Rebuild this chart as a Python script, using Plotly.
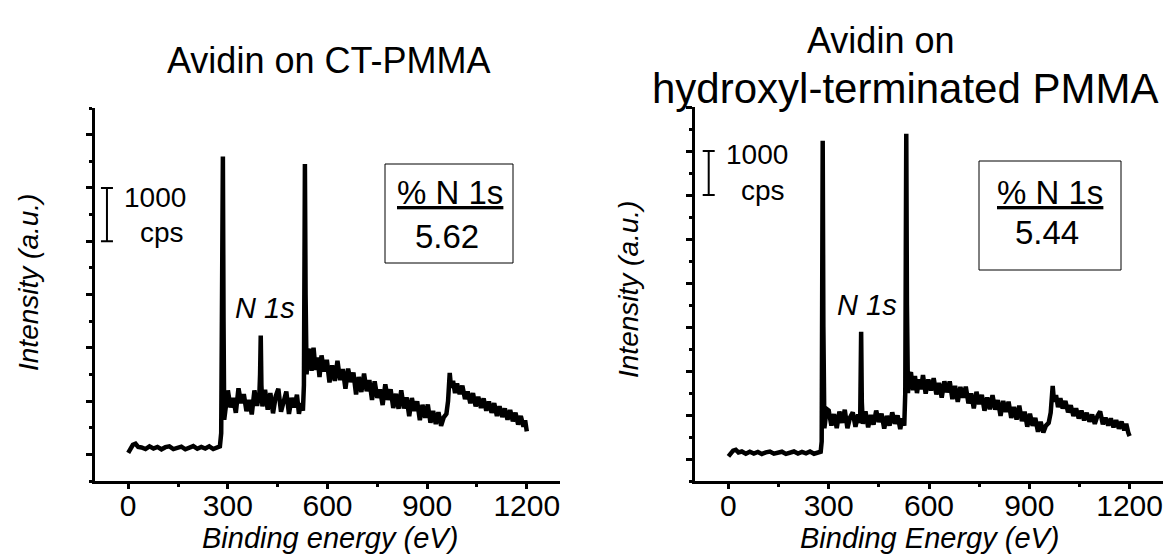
import plotly.graph_objects as go

W, H = 1176, 559

# ---------------- data ----------------
energy_ct = [0, 6, 14, 22, 30, 40, 52, 64, 76, 88, 100, 112, 124, 136, 148, 160, 172, 184, 196, 208, 220, 232, 244, 256, 268, 276,
             280, 283, 285, 287, 289, 292, 296,
             300, 308, 316, 324, 332, 340, 348, 356, 364, 372, 380, 388, 395,
             397, 399, 401, 404,
             412, 420, 428, 436, 444, 452, 460, 468, 476, 484, 492, 500, 508, 514, 520, 526,
             529, 531, 532, 534, 537, 541,
             546, 552, 558, 564, 570, 576, 582, 590, 598, 606, 614, 622, 630, 638, 646, 654, 662, 670, 678, 686, 694, 702,
             710, 718, 726, 734, 742, 750, 758, 766, 774, 782, 790, 798, 806, 814, 822, 830, 838, 846, 854, 862, 870, 878,
             886, 894, 902, 910, 918, 926, 934, 942, 950, 958,
             963, 968, 972, 978, 984, 990, 998, 1006, 1014, 1022, 1030, 1038, 1046, 1054, 1062, 1070, 1078, 1086, 1094,
             1102, 1110, 1118, 1126, 1134, 1142, 1150, 1158, 1166, 1174, 1182, 1190, 1195, 1200]
counts_ct = [30, 110, 180, 200, 140, 130, 100, 150, 110, 140, 95, 135, 150, 100, 130, 145, 95, 130, 155, 105, 140, 110, 150, 100, 135, 150,
             400, 3000, 5590, 2500, 650, 800, 1000,
             1200, 880, 1060, 780, 1240, 960, 1130, 810, 1020, 750, 1200, 910, 1150,
             1500, 2230, 1300, 900,
             1210, 840, 1150, 770, 1090, 1230, 800, 980, 1180, 760, 1060, 880, 1120, 760, 960, 820,
             1300, 4000, 5450, 3000, 1500, 1900,
             1980, 1570, 2000, 1585, 1820, 1450, 1856, 1554, 1773, 1351, 1669, 1377, 1756, 1394, 1602, 1230, 1609, 1357, 1535, 1123, 1452, 1170,
             1518, 1186, 1395, 1023, 1371, 1059, 1218, 926, 1314, 1022, 1221, 869, 1137, 855, 1204, 862, 1070, 718, 1057, 815, 993, 641,
             930, 688, 936, 594, 813, 571, 789, 537, 696, 760,
             1000, 1530, 1250, 1380, 1150, 1330, 1130, 1290, 1040, 1180, 960, 1150, 900, 1080, 870, 1050, 820, 990, 780,
             960, 720, 900, 700, 860, 650, 830, 620, 780, 560, 720, 520, 640, 430]

energy_oh = [0, 6, 14, 22, 30, 40, 52, 64, 76, 88, 100, 112, 124, 136, 148, 160, 172, 184, 196, 208, 220, 232, 244, 256, 268, 276,
             279, 281, 282, 284, 287, 291, 295,
             300, 308, 316, 324, 332, 340, 348, 356, 364, 372, 380, 388, 394,
             396, 397, 399, 402,
             410, 418, 426, 434, 442, 450, 458, 466, 474, 482, 490, 498, 506, 514, 520, 526,
             529, 531, 532, 534, 537, 541,
             546, 552, 558, 564, 570, 576, 582, 590, 598, 606, 614, 622, 630, 638, 646, 654, 662, 670, 678, 686, 694, 702,
             710, 718, 726, 734, 742, 750, 758, 766, 774, 782, 790, 798, 806, 814, 822, 830, 838, 846, 854, 862, 870, 878,
             886, 894, 902, 910, 918, 926, 934, 942, 950, 958,
             964, 970, 974, 980, 986, 993, 1000, 1008, 1016, 1024, 1032, 1040, 1048, 1056, 1064, 1072, 1080, 1088, 1096,
             1104, 1112, 1120, 1128, 1136, 1144, 1152, 1160, 1168, 1176, 1184, 1190, 1196, 1200]
counts_oh = [60, 120, 190, 210, 150, 170, 120, 165, 125, 160, 115, 150, 170, 120, 145, 165, 115, 150, 170, 125, 160, 130, 170, 120, 150, 165,
             400, 4000, 7230, 3000, 700, 950, 1130,
             1100, 760, 1020, 700, 1080, 820, 1120, 700, 950, 1060, 730, 1010, 820,
             1600, 2890, 1300, 800,
             1080, 720, 1000, 780, 1100, 840, 1030, 690, 980, 760, 1060, 800, 990, 680, 920, 760,
             1500, 5000, 7390, 3500, 1500, 1900,
             1970, 1563, 1885, 1498, 1811, 1583, 1906, 1486, 1806, 1556, 1837, 1467, 1727, 1397, 1767, 1515, 1763, 1361, 1660, 1298, 1637, 1395,
             1643, 1262, 1490, 1149, 1527, 1245, 1456, 1098, 1400, 1131, 1453, 1124, 1336, 978, 1319, 1071, 1302, 934, 1182, 898, 1214, 861,
             1077, 734, 1030, 756, 933, 619, 846, 602, 760, 820,
             1050, 1660, 1300, 1450, 1180, 1380, 1150, 1320, 1060, 1220, 980, 1150, 920, 1100, 880, 1050, 850, 1010, 800,
             980, 1080, 790, 940, 760, 920, 720, 880, 690, 850, 650, 800, 600, 520]

panel_title_ct = "Avidin on CT-PMMA"
panel_title_oh = ["Avidin on", "hydroxyl-terminated PMMA"]
x_titles = ["Binding energy (eV)", "Binding Energy (eV)"]
y_title = "Intensity (a.u.)"
n1s_percent = ["5.62", "5.44"]
x_ticks = [0, 300, 600, 900, 1200]
scale_bar_ct = dict(x=[-64], y=[4500], half=[500])
scale_bar_oh = dict(x=[-59], y=[6500], half=[500])

# ---------------- figure ----------------
FONT = "Arial, Liberation Sans, sans-serif"
fig = go.Figure()

fig.add_trace(go.Scatter(x=energy_ct, y=counts_ct, mode="lines",
                         line=dict(color="black", width=4.5), xaxis="x", yaxis="y", showlegend=False))
fig.add_trace(go.Scatter(x=energy_oh, y=counts_oh, mode="lines",
                         line=dict(color="black", width=4.5), xaxis="x2", yaxis="y2", showlegend=False))

for sb, xa, ya in [(scale_bar_ct, "x", "y"), (scale_bar_oh, "x2", "y2")]:
    fig.add_trace(go.Scatter(x=sb["x"], y=sb["y"], mode="markers",
                             marker=dict(size=1, color="rgba(0,0,0,0)"),
                             error_y=dict(type="data", array=sb["half"], color="black", thickness=2, width=6),
                             xaxis=xa, yaxis=ya, showlegend=False))


def px(x):
    return x / W


def py(y):
    return 1 - y / H


xcommon = dict(range=[-100, 1300], tickvals=x_ticks, ticks="outside", ticklen=5, tickwidth=3,
               tickcolor="black", showline=True, linewidth=3, linecolor="black", showgrid=False,
               zeroline=False, tickfont=dict(family=FONT, size=30, color="black"),
               ticklabelstandoff=-9,
               minor=dict(dtick=150, tick0=0, ticks="outside", ticklen=3, tickwidth=3, tickcolor="black"))
ycommon = dict(ticks="outside", ticklen=6, tickwidth=3, tickcolor="black", dtick=1000, tick0=0,
               showline=True, linewidth=3, linecolor="black", showgrid=False, zeroline=False,
               showticklabels=False,
               minor=dict(dtick=500, tick0=0, ticks="outside", ticklen=3, tickwidth=3, tickcolor="black"))

fig.update_layout(
    width=W, height=H, autosize=False,
    margin=dict(l=0, r=0, t=0, b=0),
    paper_bgcolor="white", plot_bgcolor="white",
    xaxis=dict(domain=[px(95), px(560)], anchor="y", **xcommon),
    yaxis=dict(domain=[py(481), py(108)], anchor="x", range=[-500, 6500], **ycommon),
    xaxis2=dict(domain=[px(695), px(1163)], anchor="y2", **xcommon),
    yaxis2=dict(domain=[py(481), py(107)], anchor="x2", range=[-500, 8000], **ycommon),
)

ann = []


def text(x, y, s, size=26, italic=False, angle=0):
    ann.append(dict(x=px(x), y=py(y), xref="paper", yref="paper", text=s, showarrow=False,
                    xanchor="center", yanchor="middle", textangle=angle,
                    font=dict(family=FONT, size=size, color="black",
                              style="italic" if italic else "normal")))


# titles
text(328, 60, panel_title_ct, size=36)
text(880, 40, panel_title_oh[0], size=36)
text(905, 88, panel_title_oh[1], size=42)
# axis titles
text(330, 538, x_titles[0], size=29, italic=True)
text(930, 538, x_titles[1], size=29, italic=True)
text(28, 283, y_title, size=28, italic=True, angle=-90)
text(628, 290, y_title, size=28, italic=True, angle=-90)
# scale bar labels
text(155, 197, "1000", size=28)
text(162, 232, "cps", size=28)
text(757, 155, "1000", size=28)
text(763, 190, "cps", size=28)
# N 1s labels
text(265, 308, "N 1s", size=29, italic=True)
text(867, 305, "N 1s", size=29, italic=True)
# boxes
text(450, 193, "<u>% N 1s</u>", size=33)
text(447, 236, n1s_percent[0], size=33)
text(1050, 193, "<u>% N 1s</u>", size=33)
text(1047, 233, n1s_percent[1], size=33)

fig.update_layout(annotations=ann)

fig.add_shape(type="rect", xref="paper", yref="paper", x0=px(385), x1=px(513), y0=py(263), y1=py(164),
              line=dict(color="black", width=1))
fig.add_shape(type="rect", xref="paper", yref="paper", x0=px(979), x1=px(1121), y0=py(270), y1=py(161),
              line=dict(color="black", width=1))

fig.write_html("out.html", config={"displayModeBar": False},
               post_script="document.body.style.margin='0';document.body.style.overflow='hidden';")
